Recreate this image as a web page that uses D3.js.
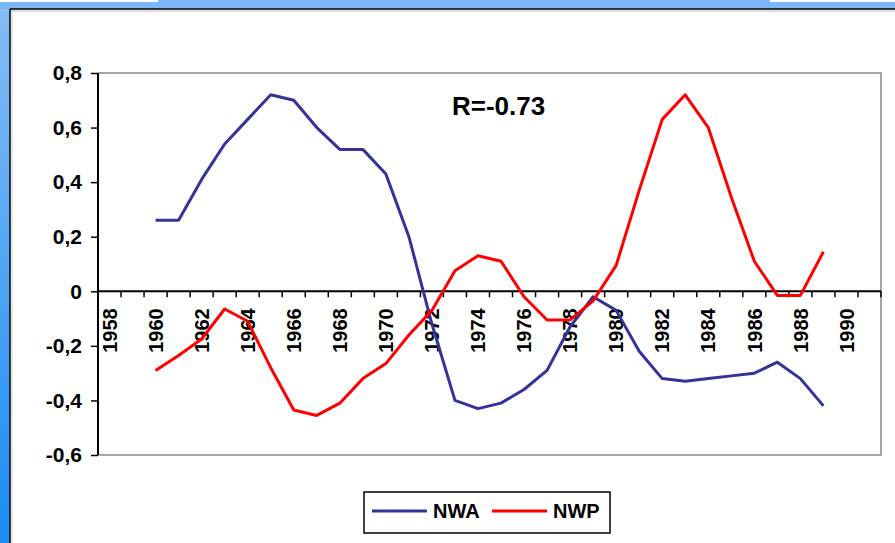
<!DOCTYPE html>
<html>
<head>
<meta charset="utf-8">
<script src="https://cdn.jsdelivr.net/npm/d3@7/dist/d3.min.js"></script>
<style>
  html, body { margin: 0; padding: 0; background: #fff; }
  svg { display: block; }
  text { font-family: "Liberation Sans", Arial, sans-serif; font-weight: bold; }
</style>
</head>
<body>
<div id="chart"></div>
<script>
// categories on the x axis (Excel category axis, 1958..1991)
var axisYears = [1958,1959,1960,1961,1962,1963,1964,1965,1966,1967,1968,1969,1970,1971,1972,1973,1974,
                 1975,1976,1977,1978,1979,1980,1981,1982,1983,1984,1985,1986,1987,1988,1989,1990,1991];
var labelYears = [1958,1960,1962,1964,1966,1968,1970,1972,1974,1976,1978,1980,1982,1984,1986,1988,1990];
var yTicks = [-0.6,-0.4,-0.2,0,0.2,0.4,0.6,0.8];

// series
var years = [1960,1961,1962,1963,1964,1965,1966,1967,1968,1969,1970,1971,1972,1973,1974,
             1975,1976,1977,1978,1979,1980,1981,1982,1983,1984,1985,1986,1987,1988,1989];
var nwa = [0.26,0.26,0.41,0.54,0.63,0.72,0.70,0.60,0.52,0.52,0.43,0.20,-0.12,-0.40,-0.43,
           -0.41,-0.36,-0.29,-0.13,-0.02,-0.07,-0.22,-0.32,-0.33,-0.32,-0.31,-0.30,-0.26,-0.32,-0.42];
var nwp = [-0.29,-0.235,-0.175,-0.065,-0.11,-0.28,-0.435,-0.455,-0.41,-0.32,-0.265,-0.16,-0.07,0.075,0.13,
           0.11,-0.02,-0.105,-0.105,-0.035,0.095,0.37,0.63,0.72,0.60,0.345,0.11,-0.015,-0.015,0.145];
var seriesNames = ['NWA', 'NWP'];
var seriesColors = ['#333399', '#ff0000'];
var annotation = 'R=-0.73';

var W = 895, H = 543;
var plot = { left: 98, right: 881, top: 73, bottom: 455 };

var svg = d3.select('#chart').append('svg').attr('width', W).attr('height', H);

// blue page background + white panel
var defs = svg.append('defs');
var grad = defs.append('linearGradient').attr('id', 'sideGrad')
    .attr('x1', 0).attr('y1', 0).attr('x2', 0).attr('y2', 1);
grad.append('stop').attr('offset', '0%').attr('stop-color', '#86bdf6');
grad.append('stop').attr('offset', '100%').attr('stop-color', '#1a8cf2');

svg.append('rect').attr('x', 0).attr('y', 0).attr('width', W).attr('height', H).attr('fill', 'url(#sideGrad)');
svg.append('rect').attr('x', 0).attr('y', 0).attr('width', W).attr('height', 9).attr('fill', '#7ab6f8');
svg.append('rect').attr('x', 0).attr('y', 0).attr('width', 158).attr('height', 2).attr('fill', '#fff');
svg.append('rect').attr('x', 770).attr('y', 0).attr('width', 125).attr('height', 2).attr('fill', '#fff');
svg.append('rect').attr('x', 10).attr('y', 9).attr('width', W - 10).attr('height', H - 9).attr('fill', '#fff');
svg.append('line').attr('x1', 10).attr('x2', W).attr('y1', 9).attr('y2', 9).attr('stroke', '#000').attr('stroke-width', 1.5);
svg.append('line').attr('x1', 10).attr('x2', 10).attr('y1', 9).attr('y2', H).attr('stroke', '#000').attr('stroke-width', 1.5);
svg.append('line').attr('x1', 11).attr('x2', W).attr('y1', 11).attr('y2', 11).attr('stroke', '#bbb').attr('stroke-width', 1);
svg.append('line').attr('x1', 12).attr('x2', 12).attr('y1', 11).attr('y2', H).attr('stroke', '#ccc').attr('stroke-width', 1);

var x = d3.scaleBand().domain(axisYears).range([plot.left, plot.right]).padding(0);
var y = d3.scaleLinear().domain([-0.6, 0.8]).range([plot.bottom, plot.top]);
var cx = function (yr) { return x(yr) + x.bandwidth() / 2; };

// plot area frame (grey top / right / bottom)
svg.append('path')
    .attr('d', 'M' + plot.left + ',' + plot.top + 'H' + plot.right + 'V' + plot.bottom + 'H' + plot.left)
    .attr('fill', 'none').attr('stroke', '#a6a6a6').attr('stroke-width', 2);

// y axis
var yAxis = d3.axisLeft(y).tickValues(yTicks).tickSize(7).tickPadding(9)
    .tickFormat(function (d) {
        if (Math.abs(d) < 1e-9) return '0';
        return (d < 0 ? '-' : '') + Math.abs(d).toFixed(1).replace('.', ',');
    });
var gy = svg.append('g').attr('transform', 'translate(' + plot.left + ',0)').call(yAxis);
gy.select('.domain').attr('stroke', '#000').attr('stroke-width', 2).attr('d', 'M0,' + plot.top + 'V' + plot.bottom);
gy.selectAll('.tick line').attr('stroke', '#000').attr('stroke-width', 1.5);
gy.selectAll('.tick text').attr('fill', '#000').style('font-size', '21px').style('font-weight', 'bold')
    .style('font-family', '"Liberation Sans", Arial, sans-serif');

// x axis at zero
var y0 = y(0);
svg.append('line').attr('x1', plot.left).attr('x2', plot.right).attr('y1', y0).attr('y2', y0)
    .attr('stroke', '#000').attr('stroke-width', 2);
var tickPos = axisYears.map(function (d) { return x(d); }).concat([plot.right]);
svg.append('g').selectAll('line').data(tickPos).join('line')
    .attr('x1', function (d) { return d; }).attr('x2', function (d) { return d; })
    .attr('y1', y0).attr('y2', y0 + 6)
    .attr('stroke', '#000').attr('stroke-width', 1.5);

var xAxis = d3.axisBottom(x).tickValues(labelYears).tickSize(0);
var gx = svg.append('g').attr('transform', 'translate(0,' + y0 + ')').call(xAxis);
gx.select('.domain').remove();
gx.selectAll('.tick text')
    .attr('fill', '#000')
    .attr('transform', 'rotate(-90)')
    .attr('text-anchor', 'end')
    .attr('x', -17).attr('y', 0).attr('dy', '0.36em')
    .style('font-size', '20px').style('font-weight', 'bold')
    .style('font-family', '"Liberation Sans", Arial, sans-serif');

// lines
var line = d3.line().x(function (d) { return cx(d[0]); }).y(function (d) { return y(d[1]); });
[nwa, nwp].forEach(function (vals, i) {
    svg.append('path')
        .datum(years.map(function (yr, j) { return [yr, vals[j]]; }))
        .attr('fill', 'none')
        .attr('stroke', seriesColors[i])
        .attr('stroke-width', 3)
        .attr('stroke-linejoin', 'round')
        .attr('d', line);
});

// annotation
svg.append('text').attr('x', 452).attr('y', 115).attr('fill', '#000')
    .style('font-size', '26px').text(annotation);

// legend
var lg = svg.append('g');
lg.append('rect').attr('x', 364).attr('y', 492).attr('width', 246).attr('height', 41)
    .attr('fill', '#fff').attr('stroke', '#000').attr('stroke-width', 1.5);
var lx = [372, 492];
seriesNames.forEach(function (name, i) {
    lg.append('line').attr('x1', lx[i]).attr('x2', lx[i] + 55).attr('y1', 511).attr('y2', 511)
        .attr('stroke', seriesColors[i]).attr('stroke-width', 3);
    lg.append('text').attr('x', lx[i] + 61).attr('y', 518).attr('fill', '#000')
        .style('font-size', '20px').text(name);
});
</script>
</body>
</html>
